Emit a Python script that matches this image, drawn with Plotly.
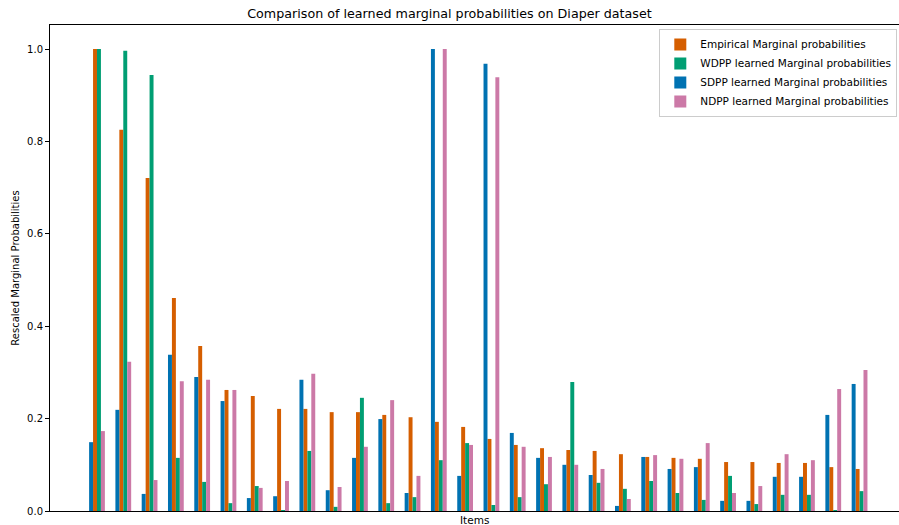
import plotly.graph_objects as go

items = list(range(30))

empirical = [1.0, 0.825, 0.721, 0.461, 0.357, 0.262, 0.249, 0.221, 0.221, 0.214,
             0.214, 0.208, 0.203, 0.193, 0.182, 0.156, 0.143, 0.136, 0.132, 0.130,
             0.123, 0.117, 0.115, 0.113, 0.106, 0.106, 0.104, 0.104, 0.095, 0.091]
wdpp = [1.0, 0.996, 0.944, 0.115, 0.063, 0.017, 0.054, 0.002, 0.130, 0.009,
        0.245, 0.017, 0.030, 0.110, 0.147, 0.013, 0.030, 0.058, 0.279, 0.061,
        0.048, 0.065, 0.039, 0.024, 0.076, 0.015, 0.035, 0.035, 0.002, 0.043]
sdpp = [0.149, 0.219, 0.037, 0.338, 0.290, 0.238, 0.028, 0.032, 0.284, 0.045,
        0.115, 0.199, 0.039, 1.0, 0.076, 0.968, 0.169, 0.115, 0.100, 0.078,
        0.011, 0.117, 0.091, 0.095, 0.022, 0.022, 0.074, 0.074, 0.208, 0.275]
ndpp = [0.173, 0.323, 0.067, 0.281, 0.284, 0.262, 0.050, 0.065, 0.297, 0.052,
        0.139, 0.240, 0.076, 1.0, 0.143, 0.939, 0.139, 0.117, 0.100, 0.091,
        0.026, 0.121, 0.113, 0.147, 0.039, 0.054, 0.123, 0.110, 0.264, 0.305]

series = [
    ("Empirical Marginal probabilities", empirical, "#D55E00", -0.15, 1),
    ("WDPP learned Marginal probabilities", wdpp, "#009E73", 0.0, 2),
    ("SDPP learned Marginal probabilities", sdpp, "#0072B2", -0.30, 3),
    ("NDPP learned Marginal probabilities", ndpp, "#CC79A7", 0.15, 4),
]

fig = go.Figure()
for name, vals, color, off, rank in series:
    fig.add_trace(go.Bar(
        x=items, y=vals, name=name, marker_color=color, marker_line_width=0,
        width=0.15, offset=off, legendrank=rank,
    ))

font = "DejaVu Sans, Verdana, sans-serif"
fig.update_layout(
    barmode="overlay",
    width=899, height=525,
    margin=dict(l=50, r=0, t=25, b=14, autoexpand=False),
    paper_bgcolor="white", plot_bgcolor="white",
    font=dict(family=font, size=10, color="black"),
    title=dict(text="Comparison of learned marginal probabilities on Diaper dataset",
               x=0.5, xanchor="center", y=1 - 14 / 525, yanchor="middle",
               font=dict(size=12.7, family=font)),
    legend=dict(x=0.998, y=0.992, xanchor="right", yanchor="top", xref="paper",
                bordercolor="#cccccc", borderwidth=1, bgcolor="rgba(255,255,255,0.8)",
                font=dict(size=10.5, family=font), tracegroupgap=0, itemwidth=30),
    xaxis=dict(range=[-1.787, 30.5], showticklabels=False, ticks="",
               showgrid=False, zeroline=False, showline=True, linecolor="black",
               linewidth=1, mirror=True, automargin=False),
    yaxis=dict(range=[0, 1.052], tickvals=[0, 0.2, 0.4, 0.6, 0.8, 1.0],
               ticktext=["0.0", "0.2", "0.4", "0.6", "0.8", "1.0"],
               ticks="outside", ticklen=4, tickcolor="black", automargin=False,
               showgrid=False, zeroline=False, showline=True, linecolor="black",
               linewidth=1, tickfont=dict(size=10),
               title=dict(text="Rescaled Marginal Probabilities", standoff=5,
                          font=dict(size=10))),
    annotations=[dict(text="Items", xref="paper", yref="paper", x=0.5, y=0,
                      xanchor="center", yanchor="top", yshift=-1, showarrow=False,
                      font=dict(size=10.5, family=font))],
)

fig.write_html("out.html", config={"displayModeBar": False},
               post_script="document.body.style.margin='0';document.body.style.padding='0';")
